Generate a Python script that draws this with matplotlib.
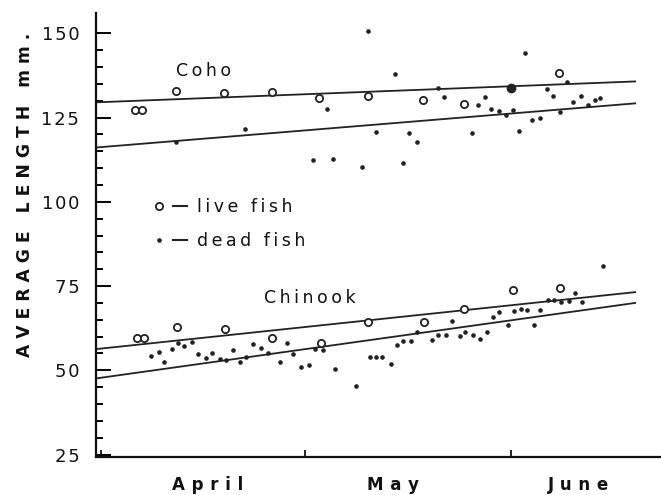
"""
Average length of live and dead coho and chinook, April to June.
Day 0 = April 1 on the x axis.
"""

import matplotlib
matplotlib.use('Agg')
import matplotlib.pyplot as plt

# coho, open circles = live fish
coho_live_day = [4.3, 5.3, 10.5, 17.7, 25.0, 32.1, 39.4, 47.7, 53.9, 68.3]
coho_live_len = [127.1, 127.1, 133.0, 132.4, 132.7, 130.7, 131.5, 130.1, 128.9, 138.1]

# coho, dots = dead fish
coho_dead_day = [10.5, 20.9, 31.2, 33.3, 34.2, 38.5, 39.4, 40.6, 43.6, 44.7, 45.6, 46.8,
                 50.0, 50.9, 55.1, 56.0, 57.1, 58.1, 59.2, 60.3, 61.3, 62.2, 63.1, 64.3,
                 65.5, 66.5, 67.4, 68.4, 69.5, 70.4, 71.6, 72.7, 73.7, 74.5]
coho_dead_len = [117.6, 121.7, 112.5, 127.4, 112.8, 110.4, 150.6, 120.8, 137.8, 111.6, 120.5, 117.6,
                 133.9, 131.0, 120.5, 128.6, 131.0, 127.4, 126.8, 125.6, 127.1, 121.1, 144.0, 124.4,
                 125.0, 133.6, 131.3, 126.5, 135.4, 129.5, 131.5, 128.6, 130.1, 130.7]

# live and dead sample on the same day (solid big dot)
coho_both_day = [61.0]
coho_both_len = [133.9]

# chinook
chinook_live_day = [4.6, 5.6, 10.6, 17.9, 25.0, 32.3, 39.5, 47.9, 53.9, 61.3, 68.4]
chinook_live_len = [59.5, 59.5, 62.8, 62.2, 59.5, 58.0, 64.3, 64.3, 68.2, 73.8, 74.4]

chinook_dead_day = [6.7, 7.9, 8.7, 9.9, 10.8, 11.7, 12.9, 13.8, 15.0, 15.9, 17.1, 18.0,
                    19.1, 20.2, 21.1, 22.1, 23.3, 24.3, 26.2, 27.3, 28.2, 29.4, 30.5, 31.4,
                    32.6, 34.5, 37.6, 39.7, 40.6, 41.6, 42.9, 43.9, 44.8, 45.9, 46.9, 49.1,
                    50.0, 51.2, 52.2, 53.3, 54.1, 55.3, 56.3, 57.4, 58.3, 59.3, 60.6, 61.5,
                    62.5, 63.4, 64.6, 65.4, 66.6, 67.5, 68.6, 69.8, 70.7, 71.8, 74.9]
chinook_dead_len = [54.2, 55.4, 52.4, 56.3, 58.0, 57.1, 58.3, 54.8, 53.6, 55.1, 53.3, 53.0,
                    56.0, 52.4, 53.9, 57.7, 56.6, 55.1, 52.4, 58.0, 54.8, 50.9, 51.5, 56.3,
                    56.0, 50.3, 45.5, 53.9, 53.9, 53.9, 51.8, 57.4, 58.6, 58.6, 61.3, 58.9,
                    60.4, 60.4, 64.6, 60.1, 61.3, 60.4, 59.2, 61.3, 65.8, 67.3, 63.4, 67.6,
                    68.2, 67.9, 63.4, 67.9, 70.8, 70.8, 70.2, 70.5, 72.9, 70.2, 81.0]

# fitted lines, read at both ends
line_day = [-1.6, 79.8]
coho_live_fit = [129.5, 135.7]
coho_dead_fit = [116.1, 129.2]
chinook_live_fit = [56.3, 73.2]
chinook_dead_fit = [47.6, 70.0]

month_ticks = [-0.9, 30, 61]
month_names = ['April', 'May', 'June']
month_label_days = [15.3, 43.3, 71.3]
y_ticks = [25, 50, 75, 100, 125, 150]


def spaced(s, sep='\u2009'):
    return sep.join(s)


fig = plt.figure(figsize=(6.61, 4.95), dpi=100)
ax = fig.add_axes([0.1452, 0.0768, 0.8548, 0.8969])

for fit in (coho_live_fit, coho_dead_fit, chinook_live_fit, chinook_dead_fit):
    ax.plot(line_day, fit, color='#222222', lw=1.3)

ax.plot(coho_live_day, coho_live_len, 'o', ms=5.2, mfc='white', mec='#222222', mew=1.3)
ax.plot(chinook_live_day, chinook_live_len, 'o', ms=5.2, mfc='white', mec='#222222', mew=1.3)
ax.plot(coho_dead_day, coho_dead_len, 'o', ms=2.3, color='#222222')
ax.plot(chinook_dead_day, chinook_dead_len, 'o', ms=2.3, color='#222222')
ax.plot(coho_both_day, coho_both_len, 'o', ms=6, color='#222222')

ax.set_xlim(-1.6, 83.7)
ax.set_ylim(24.3, 156)

for side in ('top', 'right'):
    ax.spines[side].set_visible(False)
for side in ('left', 'bottom'):
    ax.spines[side].set_linewidth(1.6)
    ax.spines[side].set_color('#111111')

ax.set_yticks(y_ticks)
ax.set_yticklabels([spaced(str(v), '\u200a') for v in y_ticks], fontsize=13, color='#111111')
ax.set_yticks(range(30, 150, 5), minor=True)
ax.tick_params(axis='y', which='major', direction='in', length=11, width=1.4, pad=12)
ax.tick_params(axis='y', which='minor', direction='in', length=5, width=1.4)

ax.set_xticks(month_ticks)
ax.set_xticklabels([])
ax.set_xticks(month_label_days, minor=True)
ax.set_xticklabels([spaced(m, '\u2009\u2009') for m in month_names], minor=True,
                   fontsize=12, fontweight='bold', color='#111111')
ax.tick_params(axis='x', which='major', direction='in', length=5, width=1.2)
ax.tick_params(axis='x', which='minor', length=0, pad=14)

fig.text(0.038, 0.606, '   '.join(spaced(w, ' ') for w in ['AVERAGE', 'LENGTH', 'mm.']),
         rotation=90, ha='center', va='center', fontsize=12.3, fontweight='bold', color='#111111')

ax.text(14.6, 138.7, spaced('Coho'), ha='center', va='center', fontsize=12.5, color='#111111')
ax.text(30.7, 71.6, spaced('Chinook'), ha='center', va='center', fontsize=12.5, color='#111111')

# legend drawn by hand like the original
ax.plot([7.9], [98.8], 'o', ms=5.2, mfc='white', mec='#222222', mew=1.3)
ax.plot([7.9], [88.7], 'o', ms=2.3, color='#222222')
ax.plot([10.0, 12.1], [98.8, 98.8], color='#222222', lw=1.5)
ax.plot([10.0, 12.1], [88.7, 88.7], color='#222222', lw=1.5)
ax.text(13.7, 98.4, spaced('live fish'), ha='left', va='center', fontsize=12.5, color='#111111')
ax.text(13.7, 88.3, spaced('dead fish'), ha='left', va='center', fontsize=12.5, color='#111111')

plt.savefig('out.png', dpi=100)
